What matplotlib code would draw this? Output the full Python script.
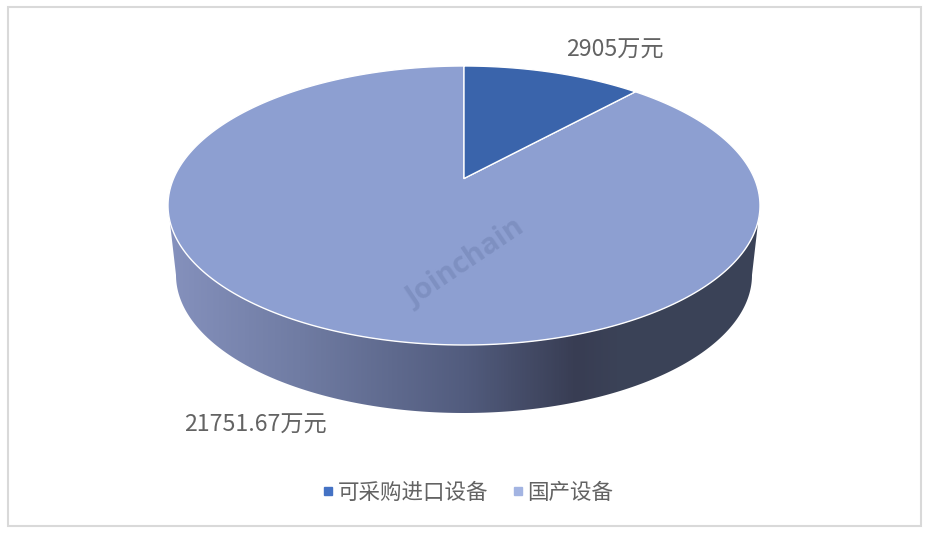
import numpy as np
import matplotlib.pyplot as plt
from matplotlib.colors import LinearSegmentedColormap
from matplotlib.lines import Line2D
from matplotlib.patches import Polygon, Rectangle

plt.rcParams["font.family"] = ["Noto Sans CJK SC", "DejaVu Sans"]

categories = ["可采购进口设备", "国产设备"]
values = [2905, 21751.67]
value_labels = ["2905万元", "21751.67万元"]

colors = ["#3a64ab", "#8d9fd1"]
legend_colors = ["#4472c4", "#a3b4e2"]
text_color = "#636363"

# pie geometry in pixels, the top face is a circle seen in perspective
cx, cy = 464, 205.5
rx, ry = 296, 139.5
k = 27 / ry
a = rx * np.sqrt(1 - k**2)


def project(theta):
    # theta runs clockwise from 12 o'clock
    u, v = np.sin(theta), np.cos(theta)
    d = 1 + k * v
    return cx + a * u / d, cy - (ry * v + 27) / d


fig = plt.figure(figsize=(9.37, 5.38), dpi=100)
ax = fig.add_axes([0, 0, 1, 1])
ax.set_xlim(0, 937)
ax.set_ylim(538, 0)
ax.axis("off")

# outer frame
ax.add_patch(Rectangle((8, 7), 913, 519, fc="white", ec="#d9d9d9", lw=1.5))

# side wall with horizontal gradient
t = np.linspace(0, np.pi, 200)
low_x = cx - 288 * np.cos(t)
low_y = 275 + 138 * np.sin(t)
top_x = cx + rx * np.cos(t)
top_y = cy + ry * np.sin(t)
side = Polygon(
    np.column_stack([np.r_[low_x, top_x], np.r_[low_y, top_y]]), fc="none", ec="none"
)
ax.add_patch(side)
stops = [
    (0.0, "#8591bd"),
    (0.22, "#707ca3"),
    (0.5, "#525c7e"),
    (0.69, "#383d53"),
    (0.76, "#3b4257"),
    (1.0, "#3a4358"),
]
cmap = LinearSegmentedColormap.from_list("side", stops)
grad = ax.imshow(
    np.linspace(0, 1, 600).reshape(1, -1),
    cmap=cmap,
    extent=(168, 761, 420, 200),
    aspect="auto",
    zorder=1,
)
grad.set_clip_path(side)
ax.set_xlim(0, 937)
ax.set_ylim(538, 0)

# top face, one polygon per value
fractions = np.cumsum([0] + values) / sum(values)
for i, name in enumerate(categories):
    th = np.linspace(fractions[i], fractions[i + 1], 300) * 2 * np.pi
    px, py = project(th)
    ax.add_patch(
        Polygon(
            np.column_stack([np.r_[cx, px], np.r_[cy - 27, py]]),
            fc=colors[i],
            ec="white",
            lw=1.0,
            joinstyle="round",
            zorder=2 + (1 - i),
        )
    )

# data labels
ax.text(615, 50.5, value_labels[0], fontsize=16.7, color=text_color, ha="center", va="center", zorder=5)
ax.text(255, 425.5, value_labels[1], fontsize=16.7, color=text_color, ha="center", va="center", zorder=5)

# watermark
ax.text(
    465, 263, "Joinchain", fontsize=21, fontweight="bold", color="#4a5a8a", alpha=0.22,
    rotation=34, rotation_mode="anchor", ha="center", va="center", zorder=6,
    family=["Open Sans", "DejaVu Sans"],
)

handles = [
    Line2D([], [], ls="none", marker="s", ms=6, mfc=c, mec=c) for c in legend_colors
]
ax.legend(
    handles,
    categories,
    loc="center",
    bbox_to_anchor=(468 / 937, 1 - 493 / 538),
    ncol=2,
    frameon=False,
    fontsize=15.5,
    labelcolor=text_color,
    handlelength=0.5,
    handletextpad=0.2,
    columnspacing=1.13,
    borderpad=0,
)

fig.savefig("out.png", dpi=100)
